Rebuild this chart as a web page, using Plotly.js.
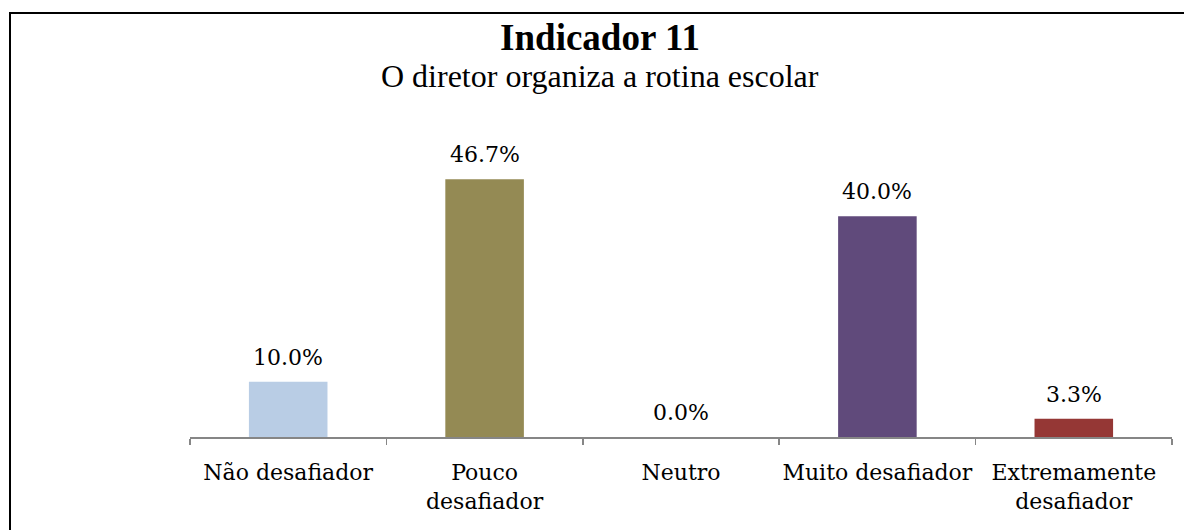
<!DOCTYPE html>
<html>
<head>
<meta charset="utf-8">
<script src="https://cdn.plot.ly/plotly-3.0.1.min.js"></script>
<style>
  html, body { margin: 0; padding: 0; background: #ffffff; overflow: hidden; }
  #chart { width: 1184px; height: 530px; position: absolute; left: 0; top: 0; }
  #frame { position: absolute; left: 9px; top: 12px; width: 1400px; height: 800px;
           border-left: 2px solid #000; border-top: 2px solid #000; pointer-events: none; }
</style>
</head>
<body>
<div id="chart"></div>
<div id="frame"></div>
<script>
const categories = ["Não desafiador", "Pouco<br>desafiador", "Neutro", "Muito desafiador", "Extremamente<br>desafiador"];
const values = [10.0, 46.7, 0.0, 40.0, 3.3];
const valueLabels = ["10.0%", "46.7%", "0.0%", "40.0%", "3.3%"];
const barColors = ["#B9CDE5", "#948A54", "#7F7F7F", "#604A7B", "#953735"];
const titleText = "Indicador 11";
const subtitleText = "O diretor organiza a rotina escolar";

const trace = {
  type: "bar",
  x: categories,
  y: values,
  marker: { color: barColors, line: { width: 0 } },
  hoverinfo: "skip"
};

const annotations = categories.map((c, i) => ({
  x: c, y: values[i], xref: "x", yref: "y",
  text: valueLabels[i], showarrow: false,
  yanchor: "bottom", yshift: 10,
  font: { family: "DejaVu Serif", size: 22, color: "#000000" }
}));

annotations.push({
  xref: "paper", yref: "paper",
  x: (600 - 190) / 982, y: (437 - 76) / 287,
  xanchor: "center", yanchor: "middle",
  text: subtitleText, showarrow: false,
  font: { family: "Liberation Serif", size: 32, color: "#000000" }
});

const layout = {
  width: 1184, height: 530,
  margin: { l: 190, r: 12, t: 150, b: 93 },
  paper_bgcolor: "#ffffff",
  plot_bgcolor: "#ffffff",
  bargap: 0.6,
  showlegend: false,
  title: {
    text: "<b>" + titleText + "</b>",
    font: { family: "Liberation Serif", size: 37, color: "#000000" },
    xref: "container", yref: "container",
    x: 600 / 1184, xanchor: "center",
    y: 1 - 37 / 530, yanchor: "middle"
  },
  xaxis: {
    type: "category",
    showline: true, linecolor: "#868686", linewidth: 1.5,
    ticks: "outside", ticklen: 6, tickcolor: "#868686", tickwidth: 1.5,
    tickson: "boundaries",
    tickangle: 0,
    ticklabelstandoff: 15,
    showgrid: false, zeroline: false,
    tickfont: { family: "DejaVu Serif", size: 22, color: "#000000" },
    fixedrange: true
  },
  yaxis: {
    range: [0, 52], visible: false, showgrid: false, zeroline: false, fixedrange: true
  },
  annotations: annotations
};

Plotly.newPlot("chart", [trace], layout, { displayModeBar: false, staticPlot: true });
</script>
</body>
</html>
